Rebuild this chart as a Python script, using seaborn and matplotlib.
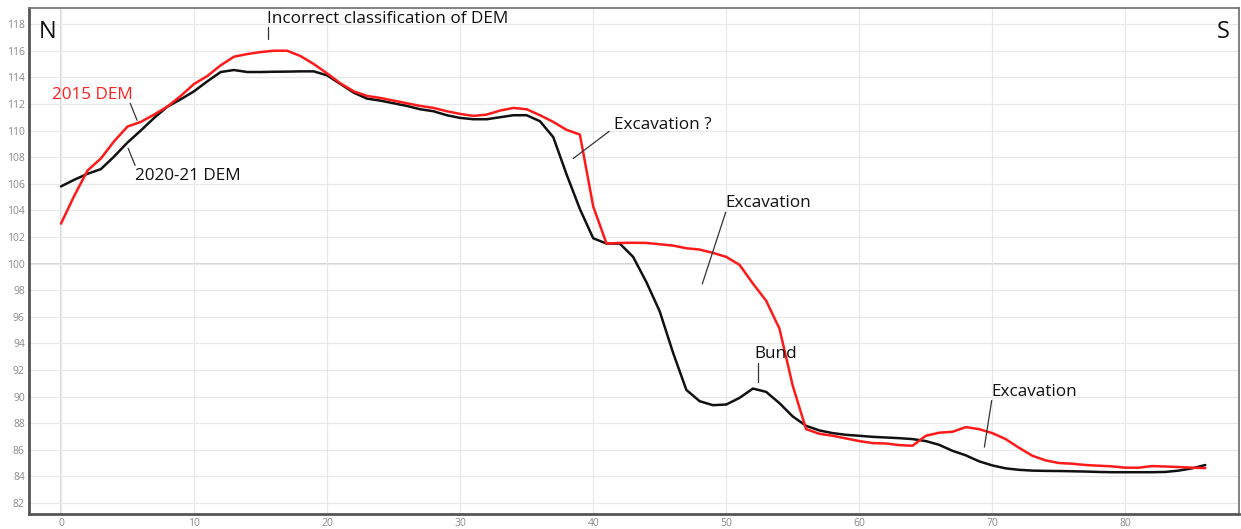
import numpy as np
import pandas as pd
import matplotlib
matplotlib.use("Agg")
import matplotlib.pyplot as plt
import seaborn as sns

distance = list(range(0, 87))

dem_2015 = [103.0, 105.1, 107.0, 107.9, 109.2, 110.3, 110.65, 111.2, 111.8, 112.6,
            113.5, 114.1, 114.9, 115.55, 115.75, 115.9, 116.0, 116.0, 115.6, 115.0,
            114.3, 113.55, 112.95, 112.6, 112.45, 112.25, 112.05, 111.85, 111.7, 111.45,
            111.25, 111.1, 111.2, 111.5, 111.7, 111.6, 111.15, 110.65, 110.05, 109.7,
            104.3, 101.5, 101.55, 101.56, 101.55, 101.45, 101.35, 101.15, 101.05, 100.8,
            100.5, 99.9, 98.5, 97.2, 95.1, 90.8, 87.55, 87.2, 87.05, 86.85,
            86.65, 86.5, 86.47, 86.35, 86.3, 87.05, 87.28, 87.35, 87.7, 87.55,
            87.25, 86.8, 86.15, 85.55, 85.2, 85.0, 84.95, 84.85, 84.8, 84.75,
            84.65, 84.65, 84.77, 84.74, 84.7, 84.65, 84.62]

dem_2021 = [105.8, 106.3, 106.75, 107.1, 108.05, 109.1, 110.0, 110.95, 111.8, 112.35,
            112.95, 113.7, 114.4, 114.55, 114.4, 114.4, 114.42, 114.43, 114.45, 114.45,
            114.15, 113.5, 112.85, 112.4, 112.25, 112.05, 111.85, 111.6, 111.45, 111.15,
            110.95, 110.85, 110.85, 111.0, 111.15, 111.15, 110.7, 109.5, 106.7, 104.1,
            101.9, 101.5, 101.5, 100.5, 98.6, 96.4, 93.3, 90.5, 89.65, 89.35,
            89.4, 89.9, 90.6, 90.35, 89.5, 88.5, 87.8, 87.45, 87.25, 87.12,
            87.05, 86.97, 86.92, 86.87, 86.8, 86.65, 86.37, 85.92, 85.58, 85.13,
            84.82, 84.6, 84.49, 84.43, 84.41, 84.4, 84.38, 84.36, 84.33, 84.31,
            84.31, 84.31, 84.31, 84.33, 84.43, 84.6, 84.85]

series_names = ["2015 DEM", "2020-21 DEM"]
y_ticks = list(range(82, 119, 2))
x_ticks = list(range(0, 81, 10))

df = pd.DataFrame({
    "distance": distance * 2,
    "elevation": dem_2015 + dem_2021,
    "series": [series_names[0]] * len(distance) + [series_names[1]] * len(distance),
})

sns.set_theme(style="whitegrid")
plt.rcParams["font.family"] = ["Open Sans", "DejaVu Sans"]

fig = plt.figure(figsize=(12.41, 5.29), dpi=100)
ax = fig.add_axes([0.0234, 0.0284, 0.9746, 0.9574])

sns.lineplot(data=df, x="distance", y="elevation", hue="series",
             palette={"2015 DEM": "#ff1a1a", "2020-21 DEM": "#111111"},
             hue_order=[series_names[1], series_names[0]],
             linewidth=1.8, legend=False, ax=ax)

ax.set_xlim(-2.4, 88.5)
ax.set_ylim(81.17, 119.25)
ax.set_xticks(x_ticks)
ax.set_yticks(y_ticks)
ax.set_xlabel("")
ax.set_ylabel("")
ax.tick_params(axis="both", length=0, labelsize=7.5, labelcolor="#8a8a8a", pad=3)
ax.grid(True, color="#e8e8e8", linewidth=0.9)
ax.axhline(100, color="#d0d0d0", linewidth=1.3, zorder=0.5)
ax.axvline(0, color="#d8d8d8", linewidth=1.3, zorder=0.5)
ax.set_facecolor("white")
for side in ["top", "right"]:
    ax.spines[side].set_color("#777777")
    ax.spines[side].set_linewidth(1.3)
for side in ["left", "bottom"]:
    ax.spines[side].set_color("#555555")
    ax.spines[side].set_linewidth(2.0)

fs = 12.3
ax.text(0.008, 0.975, "N", transform=ax.transAxes, fontsize=17, color="#111111",
        va="top", ha="left")
ax.text(0.993, 0.975, "S", transform=ax.transAxes, fontsize=17, color="#111111",
        va="top", ha="right")

ax.text(15.45, 118.4, "Incorrect classification of DEM", fontsize=fs, color="#111111",
        va="center", ha="left")
ax.plot([15.55, 15.55], [117.8, 116.9], color="#333333", lw=0.9)

ax.text(-0.65, 112.65, "2015 DEM", fontsize=fs, color="#ff2020", va="center", ha="left")
ax.plot([5.2, 5.72], [112.05, 110.77], color="#333333", lw=0.9)

ax.text(5.6, 106.55, "2020-21 DEM", fontsize=fs, color="#111111", va="center", ha="left")
ax.plot([5.05, 5.57], [108.66, 107.38], color="#333333", lw=0.9)

ax.text(41.6, 110.42, "Excavation ?", fontsize=fs, color="#111111", va="center", ha="left")
ax.plot([38.5, 41.2], [107.9, 109.94], color="#333333", lw=0.9)

ax.text(49.9, 104.55, "Excavation", fontsize=fs, color="#111111", va="center", ha="left")
ax.plot([48.2, 49.96], [98.47, 103.86], color="#333333", lw=0.9)

ax.text(52.15, 93.2, "Bund", fontsize=fs, color="#111111", va="center", ha="left")
ax.plot([52.4, 52.4], [92.5, 91.1], color="#333333", lw=0.9)

ax.text(69.9, 90.35, "Excavation", fontsize=fs, color="#111111", va="center", ha="left")
ax.plot([69.95, 69.4], [89.7, 86.2], color="#333333", lw=0.9)

fig.savefig("out.png", dpi=100)
